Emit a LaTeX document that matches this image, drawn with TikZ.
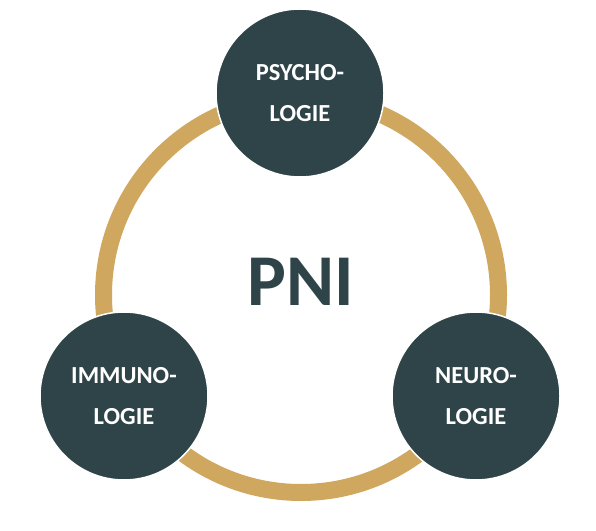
\documentclass[tikz,border=0pt]{standalone}
\usepackage{fontspec}
\setmainfont{Carlito}
\definecolor{darkteal}{HTML}{2F4448}
\definecolor{ringgold}{HTML}{CFA75E}
\begin{document}
\begin{tikzpicture}[x=1pt,y=1pt,
  topic/.style={circle, fill=darkteal, draw=white, line width=1.5pt,
    minimum size=168pt, inner sep=0pt, text=white, align=center,
    font=\fontsize{24.5}{41}\selectfont\bfseries},
  ringline/.style={draw=ringgold, line width=17pt}]
\useasboundingbox (0,0) rectangle (596,530);
\coordinate (ringc) at (301,235);
\draw[ringline] (ringc) circle[radius=197.5];
\node[inner sep=0pt, text=darkteal, font=\fontsize{73}{80}\selectfont\bfseries] (pni) at (301,248.5) {PNI};
\node[topic] (psy) at (300,437) {PSYCHO-\\LOGIE};
\node[topic] (imm) at (124,134) {IMMUNO-\\LOGIE};
\node[topic] (neu) at (476,134) {NEURO-\\LOGIE};
\end{tikzpicture}
\end{document}
